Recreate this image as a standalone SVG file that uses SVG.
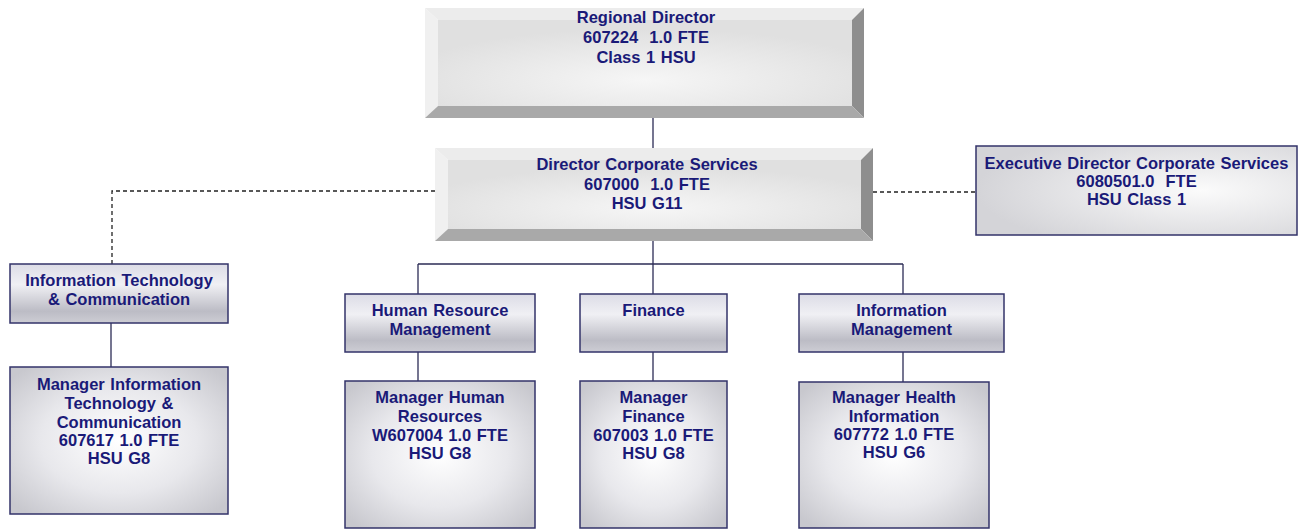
<svg xmlns="http://www.w3.org/2000/svg" width="1305" height="530" viewBox="0 0 1305 530">
<defs>
<linearGradient id="band" x1="0" y1="0" x2="0" y2="1">
<stop offset="0" stop-color="#dcdce6"/>
<stop offset="0.35" stop-color="#f0f0f4"/>
<stop offset="0.8" stop-color="#bcbcc5"/>
<stop offset="1" stop-color="#cdcdd4"/>
</linearGradient>
<radialGradient id="glow" cx="0.5" cy="0.5" r="0.65">
<stop offset="0" stop-color="#ffffff"/>
<stop offset="0.55" stop-color="#e8e8ec"/>
<stop offset="1" stop-color="#c8c8ce"/>
</radialGradient>
<radialGradient id="glowX" cx="0.7" cy="0.5" r="0.7">
<stop offset="0" stop-color="#fbfbfb"/>
<stop offset="1" stop-color="#d4d4d8"/>
</radialGradient>
<radialGradient id="face" cx="0.5" cy="0.7" r="0.6">
<stop offset="0" stop-color="#f6f6f6"/>
<stop offset="1" stop-color="#e0e0e0"/>
</radialGradient>
</defs>
<style>
.t{font-family:"Liberation Sans",Arial,sans-serif;font-weight:bold;font-size:16.5px;fill:#1a1a78;text-anchor:middle;word-spacing:1px}
.box{stroke:#33336a;stroke-width:1.5}
.b1{fill:url(#band)}
.b2{fill:url(#glow)}
.top{fill:#ececec}
.lft{fill:#f0f0f0}
.rgt{fill:#8e8e8e}
.bot{fill:#a9a9a9}
.fc{fill:url(#face)}
.ln{stroke:#2b2b55;stroke-width:1.3;fill:none}
.dash{stroke:#222;stroke-width:1.3;fill:none;stroke-dasharray:4 3}
</style>
<rect width="1305" height="530" fill="#ffffff"/>
<g id="connectors">
<line class="ln" x1="653" y1="118" x2="653" y2="148"/>
<line class="ln" x1="653" y1="241" x2="653" y2="264"/>
<line class="ln" x1="418" y1="264" x2="903" y2="264"/>
<line class="ln" x1="418" y1="264" x2="418" y2="294"/>
<line class="ln" x1="653" y1="264" x2="653" y2="294"/>
<line class="ln" x1="903" y1="264" x2="903" y2="294"/>
<line class="ln" x1="418" y1="352" x2="418" y2="381"/>
<line class="ln" x1="653" y1="352" x2="653" y2="381"/>
<line class="ln" x1="903" y1="352" x2="903" y2="382"/>
<line class="ln" x1="111" y1="323" x2="111" y2="367"/>
<polyline class="dash" points="435,191 112,191 112,264"/>
<line class="dash" x1="873" y1="192" x2="976" y2="192"/>
</g>
<g id="regional-director">
<polygon class="top" points="425,8 864,8 852,20 438,20"/>
<polygon class="lft" points="425,8 438,20 438,106 425,118"/>
<polygon class="rgt" points="864,8 864,118 852,106 852,20"/>
<polygon class="bot" points="425,118 864,118 852,106 438,106"/>
<rect class="fc" x="438" y="20" width="414" height="86"/>
<text class="t" x="646" y="23">Regional Director</text>
<text class="t" x="646" y="43" xml:space="preserve">607224  1.0 FTE</text>
<text class="t" x="646" y="63">Class 1 HSU</text>
</g>
<g id="director-corporate-services">
<polygon class="top" points="435,148 873,148 861,160 448,160"/>
<polygon class="lft" points="435,148 448,160 448,229 435,241"/>
<polygon class="rgt" points="873,148 873,241 861,229 861,160"/>
<polygon class="bot" points="435,241 873,241 861,229 448,229"/>
<rect class="fc" x="448" y="160" width="413" height="69"/>
<text class="t" x="647" y="170">Director Corporate Services</text>
<text class="t" x="647" y="190" xml:space="preserve">607000  1.0 FTE</text>
<text class="t" x="647" y="209">HSU G11</text>
</g>
<g id="executive-director">
<rect class="box" x="976" y="146" width="321" height="89" fill="url(#glowX)"/>
<text class="t" x="1136.5" y="169">Executive Director Corporate Services</text>
<text class="t" x="1136.5" y="187" xml:space="preserve">6080501.0  FTE</text>
<text class="t" x="1136.5" y="205">HSU Class 1</text>
</g>
<g id="it-comm">
<rect class="box b1" x="10" y="264" width="218" height="59"/>
<text class="t" x="119" y="286">Information Technology</text>
<text class="t" x="119" y="305">&amp; Communication</text>
</g>
<g id="manager-it">
<rect class="box b2" x="10" y="367" width="218" height="147"/>
<text class="t" x="119" y="390">Manager Information</text>
<text class="t" x="119" y="409">Technology &amp;</text>
<text class="t" x="119" y="428">Communication</text>
<text class="t" x="119" y="446">607617 1.0 FTE</text>
<text class="t" x="119" y="464">HSU G8</text>
</g>
<g id="hr-management">
<rect class="box b1" x="345" y="294" width="190" height="58"/>
<text class="t" x="440" y="316">Human Resource</text>
<text class="t" x="440" y="335">Management</text>
</g>
<g id="manager-hr">
<rect class="box b2" x="345" y="381" width="190" height="147"/>
<text class="t" x="440" y="403">Manager Human</text>
<text class="t" x="440" y="422">Resources</text>
<text class="t" x="440" y="441">W607004 1.0 FTE</text>
<text class="t" x="440" y="459">HSU G8</text>
</g>
<g id="finance">
<rect class="box b1" x="580" y="294" width="147" height="58"/>
<text class="t" x="653.5" y="316">Finance</text>
</g>
<g id="manager-finance">
<rect class="box b2" x="580" y="381" width="147" height="147"/>
<text class="t" x="653.5" y="403">Manager</text>
<text class="t" x="653.5" y="422">Finance</text>
<text class="t" x="653.5" y="441">607003 1.0 FTE</text>
<text class="t" x="653.5" y="459">HSU G8</text>
</g>
<g id="information-management">
<rect class="box b1" x="799" y="294" width="205" height="58"/>
<text class="t" x="901.5" y="316">Information</text>
<text class="t" x="901.5" y="335">Management</text>
</g>
<g id="manager-health-info">
<rect class="box b2" x="799" y="382" width="190" height="146"/>
<text class="t" x="894" y="403">Manager Health</text>
<text class="t" x="894" y="422">Information</text>
<text class="t" x="894" y="440">607772 1.0 FTE</text>
<text class="t" x="894" y="458">HSU G6</text>
</g>
</svg>
